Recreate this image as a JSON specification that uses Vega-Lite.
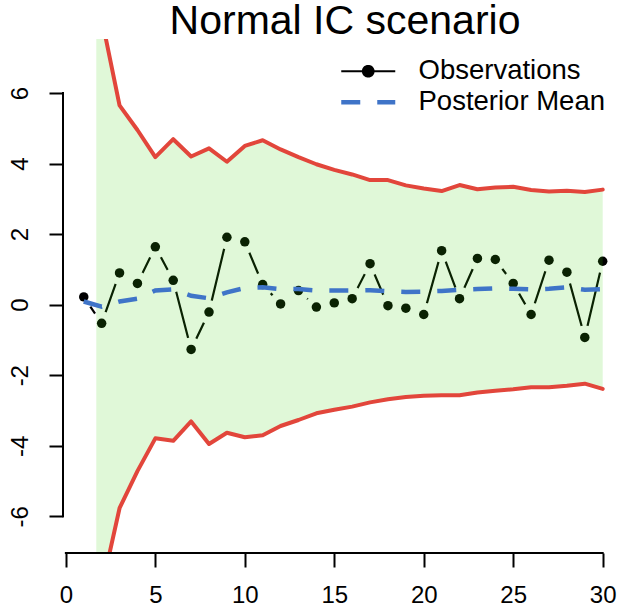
{
  "$schema": "https://vega.github.io/schema/vega-lite/v6.json",
  "width": 554,
  "height": 514,
  "autosize": {"type": "none"},
  "padding": {"left": 63, "top": 39, "right": 1, "bottom": 51},
  "background": "white",
  "config": {"view": {"stroke": null}, "font": "Liberation Sans"},
  "title": {
    "text": "Normal IC scenario",
    "font": "Liberation Sans",
    "fontSize": 41,
    "fontWeight": "normal",
    "color": "black",
    "anchor": "middle",
    "frame": "group",
    "offset": 4,
    "dx": 5,
    "dy": 8
  },
  "datasets": {
    "obs": [
      {"t": 1, "y": 0.22}, {"t": 2, "y": -0.53}, {"t": 3, "y": 0.90}, {"t": 4, "y": 0.60},
      {"t": 5, "y": 1.64}, {"t": 6, "y": 0.69}, {"t": 7, "y": -1.27}, {"t": 8, "y": -0.21},
      {"t": 9, "y": 1.91}, {"t": 10, "y": 1.78}, {"t": 11, "y": 0.57}, {"t": 12, "y": 0.02},
      {"t": 13, "y": 0.40}, {"t": 14, "y": -0.07}, {"t": 15, "y": 0.05}, {"t": 16, "y": 0.17},
      {"t": 17, "y": 1.16}, {"t": 18, "y": -0.03}, {"t": 19, "y": -0.10}, {"t": 20, "y": -0.28},
      {"t": 21, "y": 1.53}, {"t": 22, "y": 0.17}, {"t": 23, "y": 1.31}, {"t": 24, "y": 1.28},
      {"t": 25, "y": 0.60}, {"t": 26, "y": -0.28}, {"t": 27, "y": 1.26}, {"t": 28, "y": 0.92},
      {"t": 29, "y": -0.93}, {"t": 30, "y": 1.23}
    ],
    "bounds": [
      {"t": 1.7, "lo": -8.05, "hi": 8.12},
      {"t": 2, "lo": -8.05, "hi": 8.12}, {"t": 3, "lo": -5.77, "hi": 5.65},
      {"t": 4, "lo": -4.72, "hi": 4.95}, {"t": 5, "lo": -3.79, "hi": 4.18},
      {"t": 6, "lo": -3.86, "hi": 4.69}, {"t": 7, "lo": -3.31, "hi": 4.20},
      {"t": 8, "lo": -3.95, "hi": 4.43}, {"t": 9, "lo": -3.63, "hi": 4.05},
      {"t": 10, "lo": -3.76, "hi": 4.50}, {"t": 11, "lo": -3.70, "hi": 4.66},
      {"t": 12, "lo": -3.44, "hi": 4.40}, {"t": 13, "lo": -3.27, "hi": 4.18},
      {"t": 14, "lo": -3.08, "hi": 3.98}, {"t": 15, "lo": -2.98, "hi": 3.82},
      {"t": 16, "lo": -2.89, "hi": 3.69}, {"t": 17, "lo": -2.77, "hi": 3.53},
      {"t": 18, "lo": -2.68, "hi": 3.53}, {"t": 19, "lo": -2.62, "hi": 3.38},
      {"t": 20, "lo": -2.58, "hi": 3.29}, {"t": 21, "lo": -2.57, "hi": 3.22},
      {"t": 22, "lo": -2.57, "hi": 3.39}, {"t": 23, "lo": -2.49, "hi": 3.27},
      {"t": 24, "lo": -2.44, "hi": 3.32}, {"t": 25, "lo": -2.40, "hi": 3.34},
      {"t": 26, "lo": -2.34, "hi": 3.25}, {"t": 27, "lo": -2.34, "hi": 3.21},
      {"t": 28, "lo": -2.30, "hi": 3.23}, {"t": 29, "lo": -2.24, "hi": 3.19},
      {"t": 30, "lo": -2.39, "hi": 3.26}
    ],
    "post": [
      {"t": 1, "m": 0.09}, {"t": 2, "m": -0.06}, {"t": 3, "m": 0.09}, {"t": 4, "m": 0.17},
      {"t": 5, "m": 0.40}, {"t": 6, "m": 0.43}, {"t": 7, "m": 0.25}, {"t": 8, "m": 0.18},
      {"t": 9, "m": 0.35}, {"t": 10, "m": 0.47}, {"t": 11, "m": 0.49}, {"t": 12, "m": 0.44},
      {"t": 13, "m": 0.44}, {"t": 14, "m": 0.40}, {"t": 15, "m": 0.40}, {"t": 16, "m": 0.40},
      {"t": 17, "m": 0.41}, {"t": 18, "m": 0.38}, {"t": 19, "m": 0.36}, {"t": 20, "m": 0.37},
      {"t": 21, "m": 0.39}, {"t": 22, "m": 0.42}, {"t": 23, "m": 0.44}, {"t": 24, "m": 0.46},
      {"t": 25, "m": 0.45}, {"t": 26, "m": 0.43}, {"t": 27, "m": 0.45}, {"t": 28, "m": 0.49},
      {"t": 29, "m": 0.42}, {"t": 30, "m": 0.44}
    ],
    "xline": [{"from": 0, "to": 30, "at": -7.04}],
    "yline": [{"from": -6, "to": 6, "at": -0.16}]
  },
  "encoding": {
    "x": {
      "field": "t",
      "type": "quantitative",
      "scale": {"domain": [-0.16, 30.8], "nice": false, "zero": false},
      "axis": {"values": [0, 5, 10, 15, 20, 25, 30], "title": null, "domain": false, "grid": false, "tickSize": 14, "tickWidth": 2, "tickColor": "black", "labelFont": "Liberation Sans", "labelFontSize": 24, "labelColor": "black", "labelPadding": 16, "labelFlush": false, "labelOverlap": false}
    }
  },
  "layer": [
    {
      "data": {"name": "obs"},
      "mark": {"type": "line", "strokeWidth": 2.2, "clip": true},
      "encoding": {
        "y": {
          "field": "y", "type": "quantitative",
          "scale": {"domain": [-7.04, 7.53], "nice": false, "zero": false},
          "axis": {"values": [-6, -4, -2, 0, 2, 4, 6], "title": null, "domain": false, "grid": false, "tickSize": 14, "tickWidth": 2, "tickColor": "black", "labelAngle": 270, "labelAlign": "center", "labelBaseline": "alphabetic", "labelPadding": 22, "labelFont": "Liberation Sans", "labelFontSize": 24, "labelColor": "black", "labelExpr": "'' + datum.value", "labelOverlap": false}
        },
        "color": {
          "datum": "Observations",
          "type": "nominal",
          "scale": {"domain": ["Observations", "Posterior Mean"], "range": ["#000000", "#3F74C8"]},
          "legend": {
            "title": null,
            "orient": "none",
            "legendX": 291.5,
            "legendY": 18.5,
            "padding": 0,
            "labelFont": "Liberation Sans",
            "labelFontSize": 27.5,
            "labelColor": "black",
            "labelOffset": 36.5,
            "labelLimit": 400,
            "symbolSize": 100,
            "rowPadding": 2,
            "encode": {
              "symbols": {
                "update": {
                  "shape": {"signal": "datum.value == 'Observations' ? 'M-5.4,0H5.4M-1.05,0A1.05,1.05,0,1,1,1.05,0A1.05,1.05,0,1,1,-1.05,0Z' : 'M-5.4,0H5.4'"},
                  "fill": {"signal": "datum.value == 'Observations' ? 'black' : 'transparent'"},
                  "stroke": {"signal": "datum.value == 'Observations' ? '#000000' : '#3F74C8'"},
                  "strokeWidth": {"signal": "datum.value == 'Observations' ? 2.2 : 4.5"},
                  "strokeDash": {"signal": "datum.value == 'Observations' ? [1, 0] : [19, 17]"},
                  "strokeCap": {"value": "butt"},
                  "opacity": {"value": 1}
                }
              }
            }
          }
        }
      }
    },
    {
      "data": {"name": "obs"},
      "mark": {"type": "point", "filled": true, "color": "white", "opacity": 1, "size": 560, "clip": true},
      "encoding": {
        "y": {
          "field": "y", "type": "quantitative",
          "scale": {"domain": [-7.04, 7.53], "nice": false, "zero": false},
          "axis": {"values": [-6, -4, -2, 0, 2, 4, 6], "title": null, "domain": false, "grid": false, "tickSize": 14, "tickWidth": 2, "tickColor": "black", "labelAngle": 270, "labelAlign": "center", "labelBaseline": "alphabetic", "labelPadding": 22, "labelFont": "Liberation Sans", "labelFontSize": 24, "labelColor": "black", "labelExpr": "'' + datum.value", "labelOverlap": false}
        }
      }
    },
    {
      "data": {"name": "obs"},
      "mark": {"type": "point", "filled": true, "color": "black", "opacity": 1, "size": 90, "clip": true},
      "encoding": {
        "y": {
          "field": "y", "type": "quantitative",
          "scale": {"domain": [-7.04, 7.53], "nice": false, "zero": false},
          "axis": {"values": [-6, -4, -2, 0, 2, 4, 6], "title": null, "domain": false, "grid": false, "tickSize": 14, "tickWidth": 2, "tickColor": "black", "labelAngle": 270, "labelAlign": "center", "labelBaseline": "alphabetic", "labelPadding": 22, "labelFont": "Liberation Sans", "labelFontSize": 24, "labelColor": "black", "labelExpr": "'' + datum.value", "labelOverlap": false}
        }
      }
    },
    {
      "data": {"name": "bounds"},
      "mark": {"type": "area", "color": "#3DD30B", "opacity": 0.16, "clip": true},
      "encoding": {
        "y": {
          "field": "lo", "type": "quantitative",
          "scale": {"domain": [-7.04, 7.53], "nice": false, "zero": false},
          "axis": {"values": [-6, -4, -2, 0, 2, 4, 6], "title": null, "domain": false, "grid": false, "tickSize": 14, "tickWidth": 2, "tickColor": "black", "labelAngle": 270, "labelAlign": "center", "labelBaseline": "alphabetic", "labelPadding": 22, "labelFont": "Liberation Sans", "labelFontSize": 24, "labelColor": "black", "labelExpr": "'' + datum.value", "labelOverlap": false}
        },
        "y2": {"field": "hi"}
      }
    },
    {
      "data": {"name": "bounds"},
      "mark": {"type": "line", "color": "#E2463B", "strokeWidth": 4, "strokeJoin": "round", "strokeCap": "round", "clip": true},
      "encoding": {
        "y": {
          "field": "hi", "type": "quantitative",
          "scale": {"domain": [-7.04, 7.53], "nice": false, "zero": false},
          "axis": {"values": [-6, -4, -2, 0, 2, 4, 6], "title": null, "domain": false, "grid": false, "tickSize": 14, "tickWidth": 2, "tickColor": "black", "labelAngle": 270, "labelAlign": "center", "labelBaseline": "alphabetic", "labelPadding": 22, "labelFont": "Liberation Sans", "labelFontSize": 24, "labelColor": "black", "labelExpr": "'' + datum.value", "labelOverlap": false}
        }
      }
    },
    {
      "data": {"name": "bounds"},
      "mark": {"type": "line", "color": "#E2463B", "strokeWidth": 4, "strokeJoin": "round", "strokeCap": "round", "clip": true},
      "encoding": {
        "y": {
          "field": "lo", "type": "quantitative",
          "scale": {"domain": [-7.04, 7.53], "nice": false, "zero": false},
          "axis": {"values": [-6, -4, -2, 0, 2, 4, 6], "title": null, "domain": false, "grid": false, "tickSize": 14, "tickWidth": 2, "tickColor": "black", "labelAngle": 270, "labelAlign": "center", "labelBaseline": "alphabetic", "labelPadding": 22, "labelFont": "Liberation Sans", "labelFontSize": 24, "labelColor": "black", "labelExpr": "'' + datum.value", "labelOverlap": false}
        }
      }
    },
    {
      "data": {"name": "post"},
      "mark": {"type": "line", "strokeWidth": 4.5, "strokeDash": [19, 17], "strokeCap": "butt", "clip": true},
      "encoding": {
        "y": {
          "field": "m", "type": "quantitative",
          "scale": {"domain": [-7.04, 7.53], "nice": false, "zero": false},
          "axis": {"values": [-6, -4, -2, 0, 2, 4, 6], "title": null, "domain": false, "grid": false, "tickSize": 14, "tickWidth": 2, "tickColor": "black", "labelAngle": 270, "labelAlign": "center", "labelBaseline": "alphabetic", "labelPadding": 22, "labelFont": "Liberation Sans", "labelFontSize": 24, "labelColor": "black", "labelExpr": "'' + datum.value", "labelOverlap": false}
        },
        "color": {
          "datum": "Posterior Mean",
          "type": "nominal",
          "scale": {"domain": ["Observations", "Posterior Mean"], "range": ["#000000", "#3F74C8"]},
          "legend": null
        }
      }
    },
    {
      "data": {"name": "xline"},
      "mark": {"type": "rule", "color": "black", "strokeWidth": 2, "strokeCap": "square"},
      "encoding": {
        "x": {
          "field": "from", "type": "quantitative",
          "scale": {"domain": [-0.16, 30.8], "nice": false, "zero": false},
          "axis": {"values": [0, 5, 10, 15, 20, 25, 30], "title": null, "domain": false, "grid": false, "tickSize": 14, "tickWidth": 2, "tickColor": "black", "labelFont": "Liberation Sans", "labelFontSize": 24, "labelColor": "black", "labelPadding": 16, "labelFlush": false, "labelOverlap": false}
        },
        "x2": {"field": "to"},
        "y": {
          "field": "at", "type": "quantitative",
          "scale": {"domain": [-7.04, 7.53], "nice": false, "zero": false},
          "axis": {"values": [-6, -4, -2, 0, 2, 4, 6], "title": null, "domain": false, "grid": false, "tickSize": 14, "tickWidth": 2, "tickColor": "black", "labelAngle": 270, "labelAlign": "center", "labelBaseline": "alphabetic", "labelPadding": 22, "labelFont": "Liberation Sans", "labelFontSize": 24, "labelColor": "black", "labelExpr": "'' + datum.value", "labelOverlap": false}
        }
      }
    },
    {
      "data": {"name": "yline"},
      "mark": {"type": "rule", "color": "black", "strokeWidth": 2, "strokeCap": "square"},
      "encoding": {
        "x": {
          "field": "at", "type": "quantitative",
          "scale": {"domain": [-0.16, 30.8], "nice": false, "zero": false},
          "axis": {"values": [0, 5, 10, 15, 20, 25, 30], "title": null, "domain": false, "grid": false, "tickSize": 14, "tickWidth": 2, "tickColor": "black", "labelFont": "Liberation Sans", "labelFontSize": 24, "labelColor": "black", "labelPadding": 16, "labelFlush": false, "labelOverlap": false}
        },
        "y": {
          "field": "from", "type": "quantitative",
          "scale": {"domain": [-7.04, 7.53], "nice": false, "zero": false},
          "axis": {"values": [-6, -4, -2, 0, 2, 4, 6], "title": null, "domain": false, "grid": false, "tickSize": 14, "tickWidth": 2, "tickColor": "black", "labelAngle": 270, "labelAlign": "center", "labelBaseline": "alphabetic", "labelPadding": 22, "labelFont": "Liberation Sans", "labelFontSize": 24, "labelColor": "black", "labelExpr": "'' + datum.value", "labelOverlap": false}
        },
        "y2": {"field": "to"}
      }
    }
  ]
}
